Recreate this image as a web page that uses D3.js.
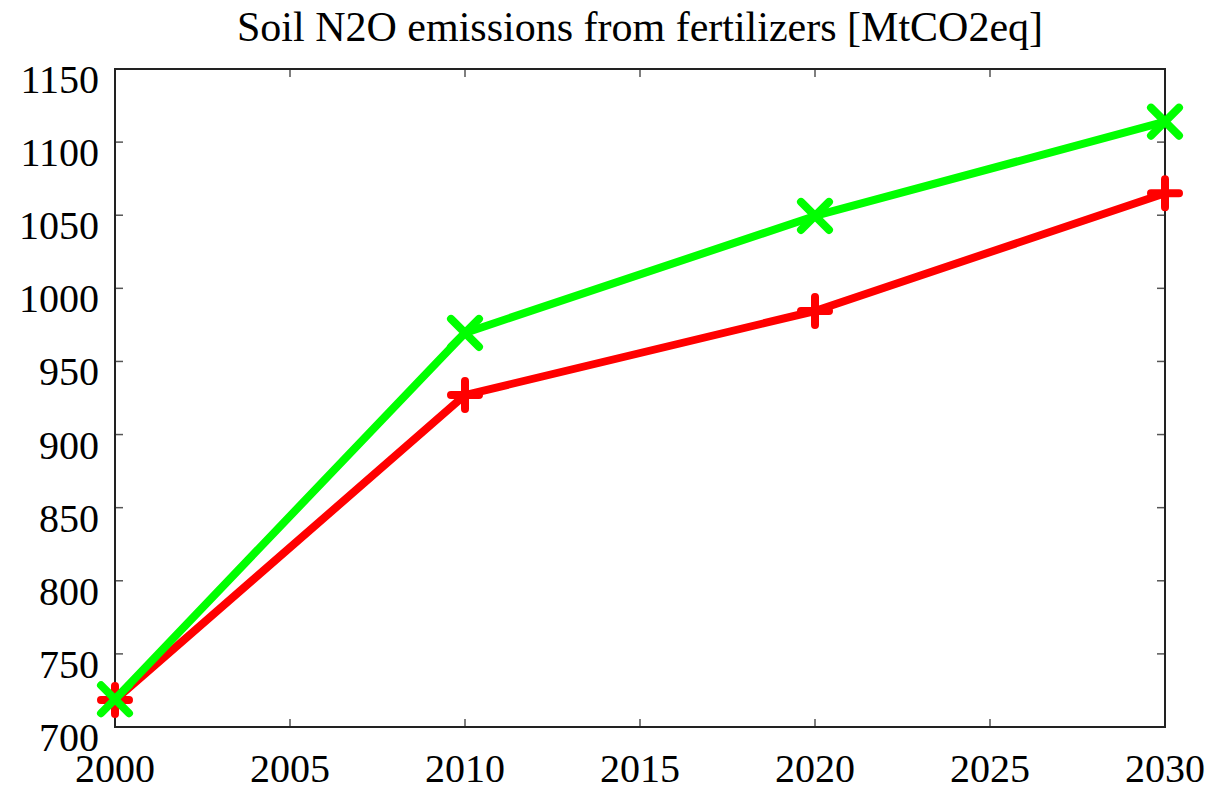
<!DOCTYPE html>
<html><head><meta charset="utf-8">
<script src="https://cdn.jsdelivr.net/npm/d3@7"></script>
<style>body{margin:0;background:#fff}svg{display:block}</style>
</head><body>
<svg id="c" width="1218" height="790"></svg>
<script>
const title = "Soil N2O emissions from fertilizers [MtCO2eq]";
const years = [2000, 2010, 2020, 2030];
const redValues = [718.5, 927, 984.5, 1065];
const greenValues = [719, 969.5, 1049.5, 1114];
const xTicks = [2000, 2005, 2010, 2015, 2020, 2025, 2030];
const yTicks = [700, 750, 800, 850, 900, 950, 1000, 1050, 1100, 1150];

const svg = d3.select("#c");
const L = 115, R = 1165, T = 69, B = 727;
const x = d3.scaleLinear().domain([2000, 2030]).range([L, R]);
const y = d3.scaleLinear().domain([700, 1150]).range([B, T]);
const font = "'Liberation Serif', 'Times New Roman', serif";

svg.append("text").attr("x", (L + R) / 2).attr("y", 41).attr("text-anchor", "middle")
  .attr("font-family", font).attr("font-size", 42).text(title);

const tl = 8;
const g = svg.append("g");
xTicks.forEach(t => {
  g.append("line").attr("x1", x(t)).attr("x2", x(t)).attr("y1", B).attr("y2", B - tl).attr("stroke", "#555").attr("stroke-width", 1.5);
  g.append("line").attr("x1", x(t)).attr("x2", x(t)).attr("y1", T).attr("y2", T + tl).attr("stroke", "#555").attr("stroke-width", 1.5);
  g.append("text").attr("x", x(t)).attr("y", 782).attr("text-anchor", "middle")
    .attr("font-family", font).attr("font-size", 40).text(t);
});
yTicks.forEach(t => {
  g.append("line").attr("x1", L).attr("x2", L + tl).attr("y1", y(t)).attr("y2", y(t)).attr("stroke", "#555").attr("stroke-width", 1.5);
  g.append("line").attr("x1", R).attr("x2", R - tl).attr("y1", y(t)).attr("y2", y(t)).attr("stroke", "#555").attr("stroke-width", 1.5);
  g.append("text").attr("x", 99).attr("y", y(t) + 24).attr("text-anchor", "end")
    .attr("font-family", font).attr("font-size", 40).text(t);
});
svg.append("rect").attr("x", L).attr("y", T).attr("width", R - L).attr("height", B - T)
  .attr("fill", "none").attr("stroke", "#222").attr("stroke-width", 2);

const line = d3.line().x((d, i) => x(years[i])).y(d => y(d));
const series = [
  {vals: redValues, color: "#ff0000", marker: "plus"},
  {vals: greenValues, color: "#00ff00", marker: "cross"}
];
const ms = 14;
series.forEach(s => {
  svg.append("path").datum(s.vals).attr("d", line).attr("fill", "none")
    .attr("stroke", s.color).attr("stroke-width", 8).attr("stroke-linejoin", "round");
  s.vals.forEach((v, i) => {
    const cx = x(years[i]), cy = y(v);
    const p = s.marker === "plus"
      ? `M${cx - ms},${cy}L${cx + ms},${cy}M${cx},${cy - ms}L${cx},${cy + ms}`
      : `M${cx - ms},${cy - ms}L${cx + ms},${cy + ms}M${cx - ms},${cy + ms}L${cx + ms},${cy - ms}`;
    svg.append("path").attr("d", p).attr("stroke", s.color).attr("stroke-width", 8)
      .attr("stroke-linecap", "round").attr("fill", "none");
  });
});
</script>
</body></html>
